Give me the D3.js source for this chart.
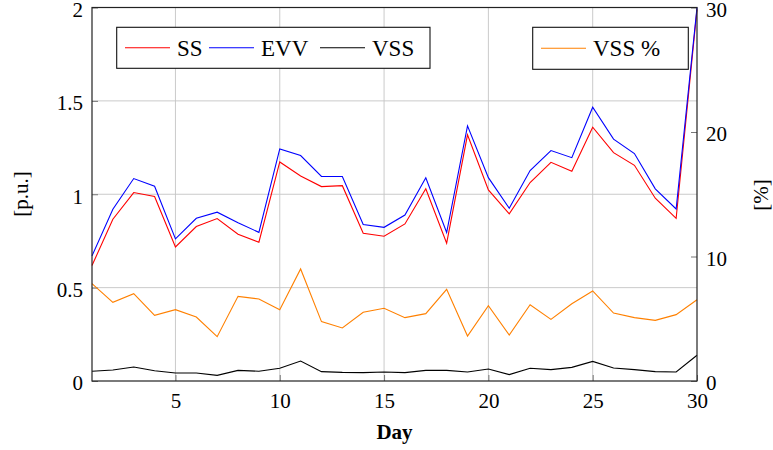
<!DOCTYPE html>
<html>
<head>
<meta charset="utf-8">
<script src="https://cdn.jsdelivr.net/npm/d3@7"></script>
<style>
  body { margin: 0; background: #fff; }
  text { font-family: "Liberation Serif", "DejaVu Serif", serif; fill: #000; }
</style>
</head>
<body>
<div id="chart"></div>
<script>
var w = 773, h = 450;

// data
var days = [1,2,3,4,5,6,7,8,9,10,11,12,13,14,15,16,17,18,19,20,21,22,23,24,25,26,27,28,29,30];
var ss = [0.618,0.866,1.009,0.988,0.718,0.827,0.870,0.786,0.743,1.173,1.098,1.041,1.046,0.791,0.775,
          0.841,1.029,0.738,1.318,1.023,0.895,1.063,1.171,1.123,1.359,1.223,1.155,0.979,0.871,1.99];
var evv = [0.670,0.920,1.084,1.043,0.761,0.871,0.904,0.848,0.796,1.243,1.207,1.095,1.095,0.838,0.823,
           0.889,1.088,0.795,1.366,1.089,0.925,1.127,1.234,1.196,1.466,1.295,1.218,1.029,0.921,2.0];
var vss = [0.052,0.059,0.075,0.055,0.043,0.043,0.030,0.057,0.052,0.068,0.107,0.050,0.046,0.045,0.048,
           0.045,0.057,0.057,0.048,0.064,0.034,0.068,0.061,0.073,0.105,0.070,0.061,0.050,0.048,0.138];
var vssPct = [7.82,6.32,7.01,5.27,5.73,5.14,3.56,6.80,6.59,5.73,9.00,4.77,4.26,5.52,5.84,
              5.09,5.41,7.36,3.61,6.05,3.69,6.13,4.95,6.21,7.23,5.46,5.09,4.87,5.33,6.53];
var xTicks = [5,10,15,20,25,30];
var leftTicks = [0,0.5,1,1.5,2];
var rightTicks = [0,10,20,30];

var margin = {top: 7.5, right: 76, bottom: 69, left: 92},
    width = w - margin.left - margin.right,
    height = h - margin.top - margin.bottom;

var svg = d3.select("#chart").append("svg")
    .attr("width", w)
    .attr("height", h);

var g = svg.append("g")
    .attr("transform", "translate(" + margin.left + "," + margin.top + ")");

var x = d3.scaleLinear().domain([1, 30]).range([0, width]),
    yL = d3.scaleLinear().domain([0, 2]).range([height, 0]),
    yR = d3.scaleLinear().domain([0, 30]).range([height, 0]);

// grid
g.append("g").selectAll("line")
  .data(xTicks.filter(function(d) { return d < 30; }))
  .enter().append("line")
    .attr("x1", function(d) { return x(d); }).attr("x2", function(d) { return x(d); })
    .attr("y1", 0).attr("y2", height)
    .attr("stroke", "#c4c4c4").attr("stroke-width", 0.9);
g.append("g").selectAll("line")
  .data(leftTicks.filter(function(d) { return d > 0 && d < 2; }))
  .enter().append("line")
    .attr("x1", 0).attr("x2", width)
    .attr("y1", function(d) { return yL(d); }).attr("y2", function(d) { return yL(d); })
    .attr("stroke", "#c4c4c4").attr("stroke-width", 0.9);

// axes (ticks drawn inward)
var fs = "21px";
var ax = g.append("g")
    .attr("transform", "translate(0," + height + ")")
    .call(d3.axisBottom(x).tickValues(xTicks).tickSize(-6).tickPadding(12).tickFormat(d3.format("d")));
var ayl = g.append("g")
    .call(d3.axisLeft(yL).tickValues(leftTicks).tickSize(-6).tickPadding(9).tickFormat(d3.format("")));
var ayr = g.append("g")
    .attr("transform", "translate(" + width + ",0)")
    .call(d3.axisRight(yR).tickValues(rightTicks).tickSize(-6).tickPadding(9));

[ax, ayl, ayr].forEach(function(a) {
  a.attr("font-family", null);
  a.select(".domain").remove();
  a.selectAll(".tick line").attr("stroke", "#777");
  a.selectAll(".tick text").style("font-size", fs).attr("fill", "#000");
});
ax.selectAll(".tick text").attr("dy", "0.71em");
ayl.selectAll(".tick text").attr("dy", "0.42em");
ayr.selectAll(".tick text").attr("dy", "0.42em");

// series
var lineL = function(vals) {
  return d3.line().x(function(d, i) { return x(days[i]); }).y(function(d) { return yL(d); })(vals);
};
var lineR = function(vals) {
  return d3.line().x(function(d, i) { return x(days[i]); }).y(function(d) { return yR(d); })(vals);
};
g.append("path").attr("d", lineR(vssPct)).attr("fill", "none").attr("stroke", "#ff8000").attr("stroke-width", 1.1);
g.append("path").attr("d", lineL(vss)).attr("fill", "none").attr("stroke", "#000").attr("stroke-width", 1.1);
g.append("path").attr("d", lineL(ss)).attr("fill", "none").attr("stroke", "#ff0000").attr("stroke-width", 1.1);
g.append("path").attr("d", lineL(evv)).attr("fill", "none").attr("stroke", "#0000ff").attr("stroke-width", 1.1);

// frame
g.append("rect").attr("x", 0).attr("y", 0).attr("width", width).attr("height", height)
  .attr("fill", "none").attr("stroke", "#222").attr("stroke-width", 1.2);

// axis labels
svg.append("text").attr("x", margin.left + width / 2).attr("y", 439)
  .attr("text-anchor", "middle").style("font-size", fs).style("font-weight", "bold").text("Day");
svg.append("text").attr("transform", "translate(28,194) rotate(-90)")
  .attr("text-anchor", "middle").style("font-size", fs).text("[p.u.]");
svg.append("text").attr("transform", "translate(768,195) rotate(-90)")
  .attr("text-anchor", "middle").style("font-size", fs).text("[%]");

// legends
var leg1 = [{name: "SS", color: "#ff0000", lx: 125, tx: 177},
            {name: "EVV", color: "#0000ff", lx: 209, tx: 261},
            {name: "VSS", color: "#000", lx: 320, tx: 372}];
var leg2 = [{name: "VSS %", color: "#ff8000", lx: 541, tx: 593}];

function drawLegend(items, box) {
  var lg = svg.append("g");
  lg.append("rect").attr("x", box[0]).attr("y", box[1]).attr("width", box[2]).attr("height", box[3])
    .attr("fill", "#fff").attr("stroke", "#111").attr("stroke-width", 1.1);
  var cy = box[1] + box[3] / 2;
  items.forEach(function(d) {
    lg.append("line").attr("x1", d.lx).attr("x2", d.lx + 45).attr("y1", cy).attr("y2", cy)
      .attr("stroke", d.color).attr("stroke-width", 1.1);
    lg.append("text").attr("x", d.tx).attr("y", cy).attr("dy", "0.35em")
      .style("font-size", "23px").text(d.name);
  });
}
drawLegend(leg1, [116.7, 27.3, 313.3, 41]);
drawLegend(leg2, [532.7, 27.3, 155.6, 42]);
</script>
</body>
</html>
